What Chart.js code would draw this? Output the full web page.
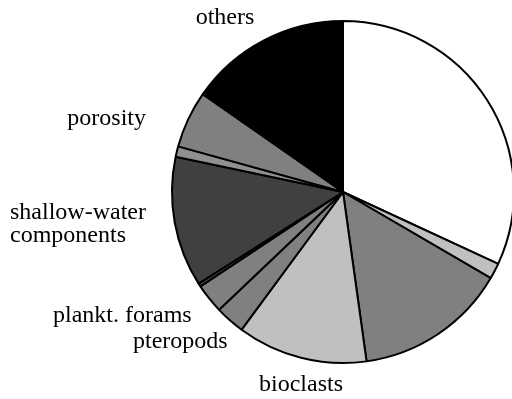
<!DOCTYPE html>
<html>
<head>
<meta charset="utf-8">
<title>Components pie</title>
<script src="https://cdn.jsdelivr.net/npm/chart.js@4.4.1/dist/chart.umd.min.js"></script>
<style>
  body { margin: 0; background: #fff; overflow: hidden; }
  #wrap { position: relative; width: 530px; height: 399px; }
</style>
</head>
<body>
<div id="wrap"><canvas id="myChart" width="530" height="399"></canvas></div>
<script>
// slices clockwise from 12 o'clock, share in percent
const categories = ["", "", "", "bioclasts", "pteropods", "plankt. forams", "", "shallow-water components", "", "porosity", "others"];
const shares = [31.9, 1.5, 14.4, 12.3, 2.8, 2.8, 0.3, 12.3, 1.0, 5.4, 15.3];
const fills = ["#ffffff", "#c0c0c0", "#808080", "#c0c0c0", "#808080", "#808080", "#505050", "#404040", "#909090", "#808080", "#000000"];

// text placed beside the pie: lines, anchor x, first baseline y, alignment
const labelSpots = [
  { lines: ["others"], x: 225, y: 24, align: "center" },
  { lines: ["porosity"], x: 146, y: 125, align: "right" },
  { lines: ["shallow-water", "components"], x: 10, y: 219, align: "left" },
  { lines: ["plankt. forams"], x: 53, y: 322, align: "left" },
  { lines: ["pteropods"], x: 133, y: 348, align: "left" },
  { lines: ["bioclasts"], x: 301, y: 391, align: "center" }
];

// draws the outside labels after the pie
const sideLabels = {
  id: "sideLabels",
  afterDraw(chart) {
    const ctx = chart.ctx;
    ctx.save();
    ctx.fillStyle = "#000";
    ctx.font = "24px 'Liberation Serif', 'Times New Roman', serif";
    ctx.textBaseline = "alphabetic";
    labelSpots.forEach(spot => {
      ctx.textAlign = spot.align;
      spot.lines.forEach((line, i) => {
        ctx.fillText(line, spot.x, spot.y + i * 23);
      });
    });
    ctx.restore();
  }
};

const myChart = document.getElementById("myChart");

let pieChart = new Chart(myChart, {
  type: "pie",
  data: {
    labels: categories,
    datasets: [
      {
        data: shares,
        backgroundColor: fills,
        borderColor: "#000",
        borderWidth: 2
      }
    ]
  },
  options: {
    responsive: false,
    animation: false,
    layout: { padding: { left: 171, right: 15, top: 20, bottom: 35 } },
    plugins: {
      legend: { display: false },
      tooltip: { enabled: false }
    }
  },
  plugins: [sideLabels]
});
</script>
</body>
</html>
